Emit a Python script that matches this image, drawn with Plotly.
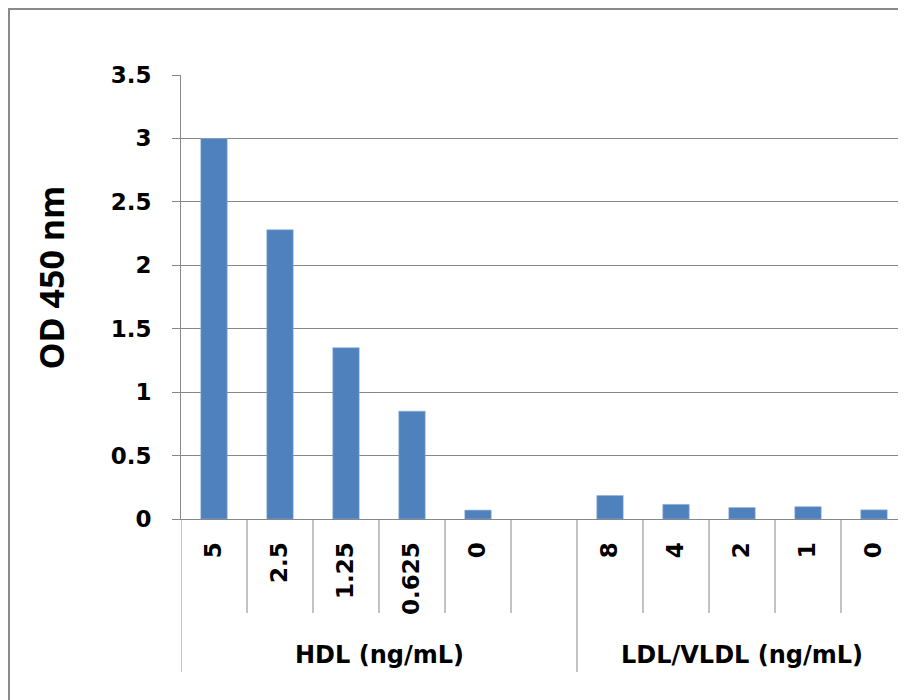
import plotly.graph_objects as go

# ---- data ----
dose_labels = ["5", "2.5", "1.25", "0.625", "0", "", "8", "4", "2", "1", "0"]
groups = ["HDL (ng/mL)"] * 6 + ["LDL/VLDL (ng/mL)"] * 5
od_values = [3.00, 2.28, 1.35, 0.85, 0.07, None, 0.185, 0.115, 0.09, 0.097, 0.072]
y_title = "OD 450 nm"
y_ticks = [0, 0.5, 1, 1.5, 2, 2.5, 3, 3.5]

TICK_FONT = "DejaVu Sans"
TITLE_FONT = "Open Sans"
GRID = "#878787"
BAR = "#4F81BD"

xpos = list(range(len(dose_labels)))

fig = go.Figure()
fig.add_trace(go.Bar(
    x=xpos, y=od_values, width=0.4,
    marker=dict(color=BAR, line=dict(color="#8FB0DA", width=0.6)),
    showlegend=False,
))

# figure / plot-area geometry (pixels, figure coordinates)
W, H = 906, 700
L, T, R, B = 173, 67, 7, 189
pw = W - L - R
ph = H - T - B

def py(fig_y):
    return (H - B - fig_y) / ph

def px(fig_x):
    return (fig_x - L) / pw

shapes = []
n = len(dose_labels)
group_bounds = [0]
for i in range(1, n):
    if groups[i] != groups[i - 1]:
        group_bounds.append(i)
for i in range(n + 1):
    xb = i - 0.5
    long_line = (i in group_bounds)
    shapes.append(dict(type="line", xref="x", yref="paper",
                       x0=xb, x1=xb, y0=0, y1=py(664) if long_line else py(605),
                       line=dict(color=GRID, width=1)))
# outer chart border
shapes.append(dict(type="rect", xref="paper", yref="paper",
                   x0=px(1), x1=px(W + 4), y0=py(H + 4), y1=py(1),
                   line=dict(color="#8A8A8A", width=2), layer="below"))

annotations = []
starts = group_bounds + [n]
for a, b in zip(starts[:-1], starts[1:]):
    annotations.append(dict(x=(a + b - 1) / 2, xref="x", y=py(647), yref="paper",
                            text=groups[a], showarrow=False,
                            font=dict(family=TICK_FONT, size=24, color="black", weight="bold"),
                            xanchor="center", yanchor="middle"))
annotations.append(dict(x=px(42), xref="paper", y=py(269.5), yref="paper",
                        text=y_title, showarrow=False, textangle=-90,
                        font=dict(family=TITLE_FONT, size=34, color="black", weight=700),
                        xanchor="center", yanchor="middle"))

fig.update_layout(
    width=W, height=H,
    margin=dict(l=L, r=R, t=T, b=B, autoexpand=False),
    paper_bgcolor="white", plot_bgcolor="white",
    font=dict(family=TICK_FONT, color="black"),
    bargap=0.6,
    shapes=shapes, annotations=annotations,
    xaxis=dict(range=[-0.5, n - 0.5], tickmode="array", tickvals=xpos, ticktext=dose_labels,
               tickangle=-90, ticks="", showgrid=False, zeroline=False,
               showline=True, linecolor=GRID, linewidth=1,
               tickfont=dict(family=TICK_FONT, size=23, color="black", weight="bold"),
               ticklabelstandoff=13, fixedrange=True),
    yaxis=dict(range=[0, 3.5], tickmode="array", tickvals=y_ticks,
               ticktext=[f"{v:g}" for v in y_ticks],
               showgrid=True, gridcolor=GRID, gridwidth=1, zeroline=False,
               showline=True, linecolor=GRID, linewidth=1,
               ticks="outside", ticklen=8, tickcolor=GRID,
               tickfont=dict(family=TICK_FONT, size=23, color="black", weight="bold"),
               ticklabelstandoff=16, fixedrange=True),
)

fig.write_html("out.html")
